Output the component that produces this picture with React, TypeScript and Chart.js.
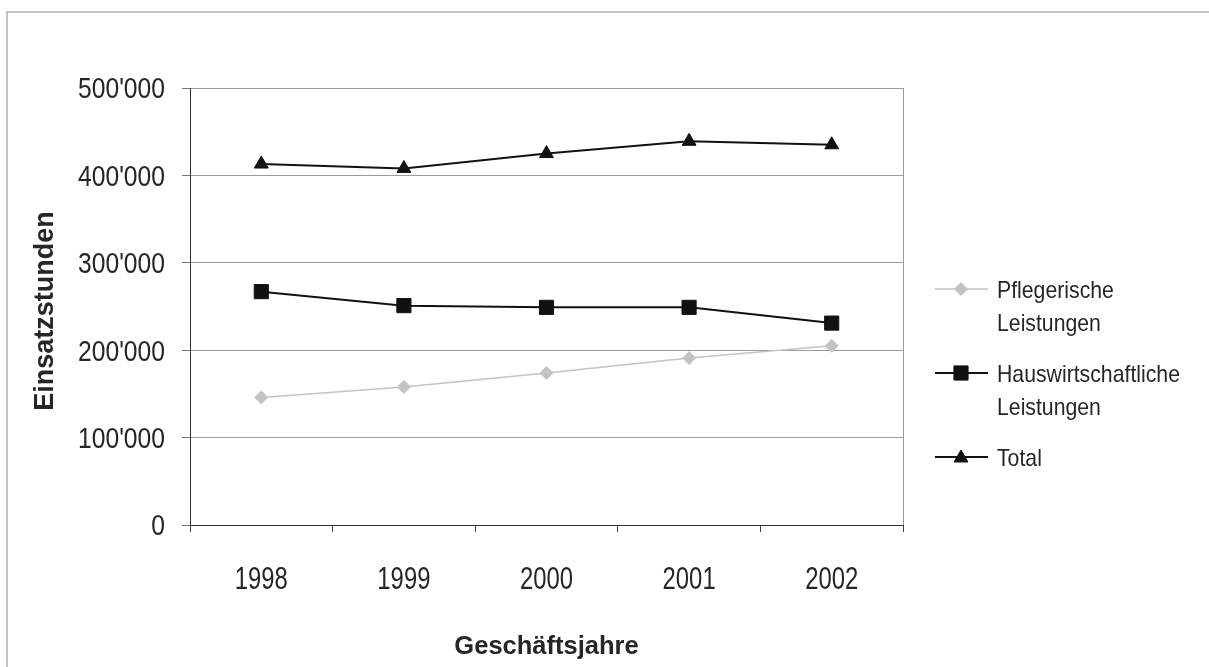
import React, { useEffect, useRef } from "react";
import { Chart, registerables } from "chart.js";

Chart.register(...registerables);

// Geschäftsjahre und Einsatzstunden
const years = ["1998", "1999", "2000", "2001", "2002"];
const pflegerische = [146000, 158000, 174000, 191000, 205000];
const hauswirtschaftliche = [267000, 251000, 249000, 249000, 231000];
const total = [413000, 408000, 425000, 439000, 435000];

const seriesNames = [
  ["Pflegerische", "Leistungen"],
  ["Hauswirtschaftliche", "Leistungen"],
  ["Total"],
];

const yTitle = "Einsatzstunden";
const xTitle = "Geschäftsjahre";

const FONT = "'Liberation Sans', Arial, sans-serif";
const TEXT = "#262626";

const formatThousands = (v: number) =>
  v === 0 ? "0" : String(Math.round(v)).replace(/\B(?=(\d{3})+(?!\d))/g, "'");

// text squeezed horizontally to get a narrow face
function narrowText(
  ctx: CanvasRenderingContext2D,
  text: string,
  x: number,
  y: number,
  font: string,
  squeeze: number,
  align: CanvasTextAlign
) {
  ctx.save();
  ctx.font = font;
  ctx.textAlign = align;
  ctx.textBaseline = "alphabetic";
  ctx.translate(x, y);
  ctx.scale(squeeze, 1);
  ctx.fillText(text, 0, 0);
  ctx.restore();
}

// legend marker in the style of the series point
function drawMarker(ctx: CanvasRenderingContext2D, style: string, r: number, x: number, y: number) {
  ctx.beginPath();
  if (style === "rectRot") {
    ctx.moveTo(x, y - r);
    ctx.lineTo(x + r, y);
    ctx.lineTo(x, y + r);
    ctx.lineTo(x - r, y);
  } else if (style === "rect") {
    const s = r * Math.SQRT1_2;
    ctx.rect(x - s, y - s, 2 * s, 2 * s);
  } else {
    const h = (r * Math.sqrt(3)) / 2;
    ctx.moveTo(x, y - r);
    ctx.lineTo(x + h, y + r / 2);
    ctx.lineTo(x - h, y + r / 2);
  }
  ctx.closePath();
  ctx.fill();
  ctx.stroke();
}

// Frame, plot border, tick labels, axis titles and a two-line legend
const decorations = {
  id: "decorations",
  beforeDraw(chart: any) {
    const { ctx, width, height } = chart;
    ctx.save();
    ctx.fillStyle = "#ffffff";
    ctx.fillRect(0, 0, width, height);
    ctx.strokeStyle = "#c4c4c4";
    ctx.lineWidth = 2;
    ctx.beginPath();
    ctx.moveTo(7, height);
    ctx.lineTo(7, 12);
    ctx.lineTo(width, 12);
    ctx.stroke();
    ctx.restore();
  },
  beforeDatasetsDraw(chart: any) {
    const { ctx, chartArea } = chart;
    ctx.save();
    ctx.strokeStyle = "#9a9a9a";
    ctx.lineWidth = 1;
    ctx.beginPath();
    ctx.moveTo(Math.round(chartArea.right) + 0.5, chartArea.top);
    ctx.lineTo(Math.round(chartArea.right) + 0.5, chartArea.bottom);
    ctx.stroke();
    ctx.restore();
  },
  afterDraw(chart: any) {
    const { ctx, chartArea } = chart;
    const xs = chart.scales.x;
    const ys = chart.scales.y;
    ctx.save();
    ctx.fillStyle = TEXT;

    // y tick labels
    const yFont = 29;
    ys.ticks.forEach((t: any) => {
      const py = ys.getPixelForValue(t.value);
      narrowText(ctx, formatThousands(t.value), chartArea.left - 25, py + yFont * 0.358, `${yFont}px ${FONT}`, 0.85, "right");
    });

    // x tick labels
    const xFont = 31;
    xs.ticks.forEach((_t: any, i: number) => {
      const px = xs.getPixelForTick(i);
      narrowText(ctx, String(chart.data.labels[i]), px, chartArea.bottom + 53 + xFont * 0.358, `${xFont}px ${FONT}`, 0.77, "center");
    });

    // y-axis title
    ctx.save();
    ctx.font = `bold 27px ${FONT}`;
    ctx.textAlign = "center";
    ctx.textBaseline = "alphabetic";
    ctx.translate(53, (chartArea.top + chartArea.bottom) / 2 + 4.5);
    ctx.rotate(-Math.PI / 2);
    ctx.fillText(yTitle, 0, 0);
    ctx.restore();

    // x-axis title
    ctx.font = `bold 25.5px ${FONT}`;
    ctx.textAlign = "center";
    ctx.textBaseline = "alphabetic";
    ctx.fillText(xTitle, (chartArea.left + chartArea.right) / 2, 654);

    // legend
    const lx = chartArea.right + 32;
    const rows = [289, 373, 457];
    const lineGap = 33;
    const lFont = 24;
    chart.data.datasets.forEach((ds: any, i: number) => {
      const y = rows[i];
      ctx.strokeStyle = ds.borderColor;
      ctx.lineWidth = ds.borderWidth;
      ctx.beginPath();
      ctx.moveTo(lx, y);
      ctx.lineTo(lx + 53, y);
      ctx.stroke();
      ctx.fillStyle = ds.pointBackgroundColor;
      ctx.strokeStyle = ds.pointBorderColor;
      ctx.lineWidth = 1;
      drawMarker(ctx, ds.pointStyle, ds.pointRadius, lx + 26, ds.pointStyle === "triangle" ? y + 1 : y);
      ctx.fillStyle = TEXT;
      seriesNames[i].forEach((line, j) => {
        narrowText(ctx, line, lx + 62, y + j * lineGap + lFont * 0.358, `${lFont}px ${FONT}`, 0.885, "left");
      });
    });
    ctx.restore();
  },
};

export default function App() {
  const canvasRef = useRef<HTMLCanvasElement | null>(null);

  useEffect(() => {
    const canvas = canvasRef.current;
    if (!canvas) return;
    const chart = new Chart(canvas, {
      type: "line",
      data: {
        labels: years,
        datasets: [
          {
            label: seriesNames[0].join(" "),
            data: pflegerische,
            borderColor: "#c3c3c3",
            borderWidth: 1.5,
            pointStyle: "rectRot",
            pointRadius: 6.5,
            pointBackgroundColor: "#c3c3c3",
            pointBorderColor: "#c3c3c3",
            pointBorderWidth: 1,
            tension: 0,
          },
          {
            label: seriesNames[1].join(" "),
            data: hauswirtschaftliche,
            borderColor: "#111111",
            borderWidth: 2,
            pointStyle: "rect",
            pointRadius: 10,
            pointBackgroundColor: "#111111",
            pointBorderColor: "#111111",
            pointBorderWidth: 1,
            tension: 0,
          },
          {
            label: seriesNames[2][0],
            data: total,
            borderColor: "#111111",
            borderWidth: 2,
            pointStyle: "triangle",
            pointRadius: 8,
            pointBackgroundColor: "#111111",
            pointBorderColor: "#111111",
            pointBorderWidth: 1,
            tension: 0,
          },
        ],
      },
      options: {
        responsive: false,
        animation: false,
        layout: { padding: { top: 88, right: 306, left: 0, bottom: 0 } },
        plugins: {
          legend: { display: false },
          title: { display: false },
          tooltip: { enabled: false },
        },
        scales: {
          x: {
            type: "category",
            offset: true,
            grid: {
              offset: true,
              drawOnChartArea: false,
              drawTicks: true,
              tickLength: 7,
              tickColor: "#444444",
            },
            border: { color: "#333333", width: 1 },
            ticks: { display: false },
            afterFit(scale: any) {
              scale.height = 142;
            },
          },
          y: {
            min: 0,
            max: 500000,
            grid: {
              color: "#9a9a9a",
              lineWidth: 1,
              drawTicks: true,
              tickLength: 8,
              tickColor: "#777777",
            },
            border: { color: "#333333", width: 1 },
            ticks: { display: false, stepSize: 100000 },
            afterFit(scale: any) {
              scale.width = 190;
            },
          },
        },
      },
      plugins: [decorations],
    });
    return () => chart.destroy();
  }, []);

  return (
    <div style={{ position: "fixed", left: 0, top: 0, width: 1209, height: 667, background: "#fff" }}>
      <canvas ref={canvasRef} width={1209} height={667} />
    </div>
  );
}
